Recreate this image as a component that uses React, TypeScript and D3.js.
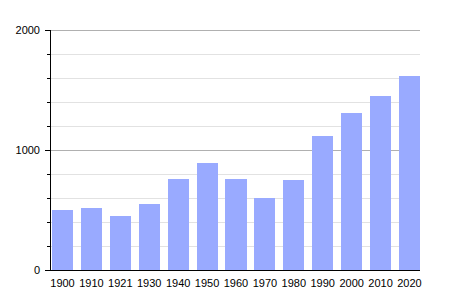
import React from "react";
import * as d3 from "d3";

const years = ["1900","1910","1921","1930","1940","1950","1960","1970","1980","1990","2000","2010","2020"];
const population = [500,517,450,550,758,892,758,600,750,1117,1308,1450,1617];
const majorTicks = [0,1000,2000];
const minorTicks = [200,400,600,800,1200,1400,1600,1800];

export default function App() {
  const W = 450, H = 300;
  const x = d3.scaleBand<string>().domain(years).range([52, 420]).paddingInner(0.273).paddingOuter(0);
  const y = d3.scaleLinear().domain([0, 2000]).range([270, 30]);
  const font = "'Liberation Sans', Arial, sans-serif";
  return (
    <svg width={W} height={H} style={{ position: "absolute", left: 0, top: 0, background: "#fff" }} shapeRendering="crispEdges">
      {minorTicks.map(t => (
        <g key={"m"+t}>
          <line x1={50} x2={420} y1={y(t)} y2={y(t)} stroke="#e2e2e2" strokeWidth={1} />
          <line x1={47} x2={50} y1={y(t)} y2={y(t)} stroke="#000" strokeWidth={1} />
        </g>
      ))}
      {majorTicks.map(t => (
        <g key={"M"+t}>
          {t > 0 && <line x1={50} x2={420} y1={y(t)} y2={y(t)} stroke="#b0b0b0" strokeWidth={1} />}
          <line x1={45} x2={50} y1={y(t)} y2={y(t)} stroke="#000" strokeWidth={1} />
          <text x={40} y={y(t)} dy="0.35em" textAnchor="end" fontFamily={font} fontSize={11} fill="#000">{t}</text>
        </g>
      ))}
      {years.map((yr, i) => (
        <rect key={yr} x={x(yr)} y={y(population[i])} width={x.bandwidth()} height={270 - y(population[i])} fill="#99aaff" />
      ))}
      <line x1={50} x2={50} y1={30} y2={270} stroke="#000" strokeWidth={1} />
      <line x1={50} x2={420} y1={270} y2={270} stroke="#000" strokeWidth={1} />
      {years.map(yr => (
        <text key={"l"+yr} x={(x(yr) as number) + x.bandwidth()/2} y={283} dy="0.35em" textAnchor="middle" fontFamily={font} fontSize={11} fill="#000">{yr}</text>
      ))}
    </svg>
  );
}
